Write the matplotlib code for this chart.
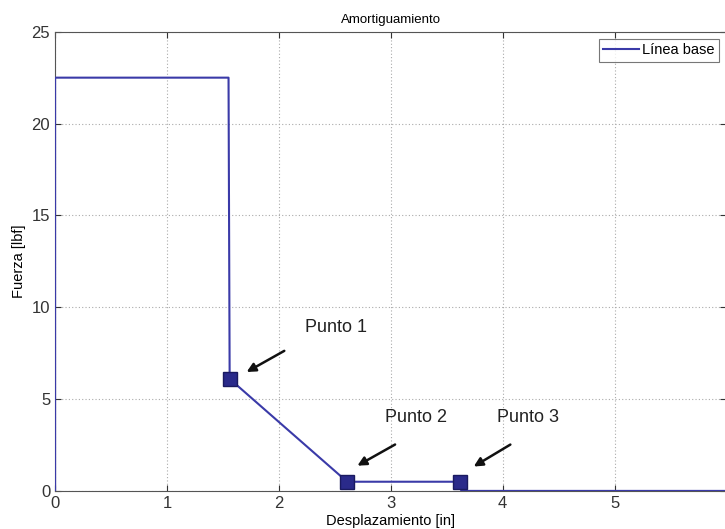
import matplotlib
matplotlib.use("Agg")
import matplotlib.pyplot as plt

plt.rcParams["font.family"] = ["Liberation Sans", "DejaVu Sans"]

desplazamiento = [0.0, 0.0, 1.55, 1.56, 2.61, 3.62, 3.63, 6.0]
fuerza = [0.0, 22.5, 22.5, 6.1, 0.5, 0.5, 0.0, 0.0]
puntos_x = [1.56, 2.61, 3.62]
puntos_y = [6.1, 0.5, 0.5]
puntos_labels = ["Punto 1", "Punto 2", "Punto 3"]
label_pos = [(2.23, 8.9), (2.95, 4.0), (3.95, 4.0)]
arrow_tail = [(2.07, 7.7), (3.06, 2.6), (4.09, 2.6)]
arrow_head = [(1.69, 6.4), (2.68, 1.3), (3.72, 1.25)]

fig = plt.figure(figsize=(7.25, 5.29), dpi=100)
ax = fig.add_axes([0.076, 0.072, 0.926, 0.868])

line_color = "#3a3aa8"
ax.plot(desplazamiento, fuerza, color=line_color, lw=1.5, label="Línea base", zorder=3)
ax.plot(puntos_x, puntos_y, ls="none", marker="s", ms=10, mfc="#2a2a8a",
        mec="#1a1a60", zorder=4)

for lab, pos, tail, head in zip(puntos_labels, label_pos, arrow_tail, arrow_head):
    ax.text(pos[0], pos[1], lab, fontsize=13, ha="left", va="center", color="#222222")
    ax.annotate("", xy=head, xytext=tail,
                arrowprops=dict(arrowstyle="-|>", color="#111111", lw=1.8,
                                mutation_scale=13))

ax.set_xlim(0, 6)
ax.set_ylim(0, 25)
ax.set_xticks([0, 1, 2, 3, 4, 5])
ax.set_yticks([0, 5, 10, 15, 20, 25])
ax.grid(True, ls=(0, (1, 2)), color="#aaaaaa", lw=0.8)
ax.tick_params(direction="in", top=True, right=True, labelsize=12, length=4,
               colors="#333333")
for s in ax.spines.values():
    s.set_color("#555555")
ax.set_title("Amortiguamiento", fontsize=9.5, pad=6)
ax.set_xlabel("Desplazamiento [in]", fontsize=10.5, labelpad=2)
ax.set_ylabel("Fuerza [lbf]", fontsize=10.5, labelpad=4)
leg = ax.legend(loc="upper right", fontsize=10.5, fancybox=False, edgecolor="#555555",
                borderaxespad=0.5, handlelength=2.5, borderpad=0.3, handletextpad=0.2)
leg.get_frame().set_linewidth(0.8)

fig.savefig("out.png", dpi=100)
